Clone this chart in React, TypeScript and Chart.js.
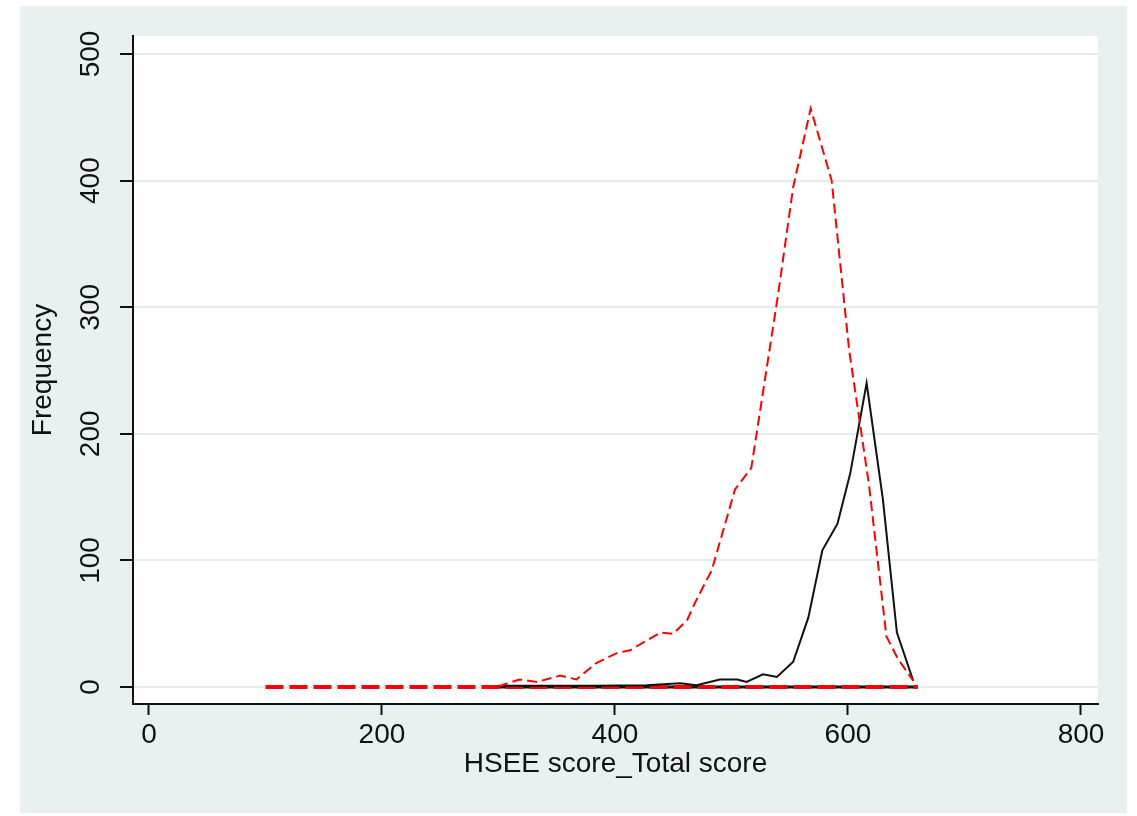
import React, { useEffect, useRef } from "react";
import { Chart, registerables } from "chart.js";

Chart.register(...registerables);

// Score values (x) and frequencies (y)
const redScores = [300, 305, 318, 333, 353, 367, 384, 402, 413, 424, 439, 450, 462, 470, 483, 503, 517, 540, 553, 568, 586, 601, 618, 633, 643, 656];
const redFreq = [0, 2, 6, 4, 9, 6, 19, 27, 29, 35, 43, 42, 53, 69, 92, 156, 173, 310, 395, 457, 400, 266, 160, 40, 22, 5];

const blackScores = [300, 340, 380, 427, 456, 470, 490, 505, 513, 527, 539, 553, 566, 578, 591, 602, 616, 630, 642, 656];
const blackFreq = [1, 1, 1, 1.5, 3, 1.5, 6, 6, 4, 10, 8, 20, 55, 108, 129, 169, 240, 148, 43, 5];

const zeroRedScores = [100, 660];
const zeroRedFreq = [0, 0];
const zeroBlackScores = [300, 660];
const zeroBlackFreq = [0, 0];

const xTicks = [0, 200, 400, 600, 800];
const yTicks = [0, 100, 200, 300, 400, 500];

const xTitle = "HSEE score_Total score";
const yTitle = "Frequency";

const FONT = "'Liberation Sans', Arial, 'DejaVu Sans', sans-serif";
const BG = "rgb(232,240,242)";
const GRID = "rgb(228,236,240)";

const toPts = (xs: number[], ys: number[]) => xs.map((x, i) => ({ x, y: ys[i] }));

export default function App() {
  const ref = useRef<HTMLCanvasElement | null>(null);

  useEffect(() => {
    document.body.style.margin = "0";
    const canvas = ref.current;
    if (!canvas) return;

    const bgPlugin = {
      id: "stataBg",
      beforeDraw(chart: any) {
        const { ctx, chartArea } = chart;
        ctx.save();
        ctx.fillStyle = "#ffffff";
        ctx.fillRect(0, 0, chart.width, chart.height);
        ctx.fillStyle = BG;
        ctx.fillRect(20, 6, 1107, 807);
        ctx.fillStyle = "#ffffff";
        ctx.fillRect(chartArea.left, chartArea.top, chartArea.right - chartArea.left, chartArea.bottom - chartArea.top);
        ctx.restore();
      },
    };

    const chart = new Chart(canvas, {
      type: "line",
      data: {
        datasets: [
          {
            data: toPts(redScores, redFreq),
            borderColor: "#ff0000",
            borderWidth: 2,
            borderDash: [10, 5],
            pointRadius: 0,
            tension: 0,
            fill: false,
          },
          {
            data: toPts(blackScores, blackFreq),
            borderColor: "#111111",
            borderWidth: 2,
            pointRadius: 0,
            tension: 0,
            fill: false,
          },
          {
            data: toPts(zeroRedScores, zeroRedFreq),
            borderColor: "#ff0000",
            borderWidth: 4,
            borderDash: [18, 6],
            pointRadius: 0,
            tension: 0,
            fill: false,
          },
          {
            data: toPts(zeroBlackScores, zeroBlackFreq),
            borderColor: "#111111",
            borderWidth: 3,
            pointRadius: 0,
            tension: 0,
            fill: false,
          },
        ],
      },
      options: {
        responsive: false,
        animation: false,
        events: [],
        layout: { padding: { top: 36, right: 39, left: 0, bottom: 0 } },
        plugins: {
          legend: { display: false },
          tooltip: { enabled: false },
          title: { display: false },
        },
        scales: {
          x: {
            type: "linear",
            min: -13.7,
            max: 814.6,
            afterBuildTicks: (scale: any) => {
              scale.ticks = xTicks.map((v) => ({ value: v }));
            },
            afterFit: (scale: any) => {
              scale.height = 112;
            },
            grid: {
              drawOnChartArea: false,
              drawTicks: true,
              tickLength: 11,
              tickColor: "#111111",
              tickWidth: 2,
            },
            border: { display: true, color: "#111111", width: 2 },
            ticks: {
              color: "#111111",
              font: { family: FONT, size: 28 },
              padding: 3,
              maxRotation: 0,
              autoSkip: false,
            },
            title: {
              display: true,
              text: xTitle,
              color: "#111111",
              font: { family: FONT, size: 28 },
              padding: { top: 0, bottom: 35 },
            },
          },
          y: {
            type: "linear",
            min: -13.4,
            max: 514.2,
            afterBuildTicks: (scale: any) => {
              scale.ticks = yTicks.map((v) => ({ value: v }));
            },
            afterFit: (scale: any) => {
              scale.width = 133;
            },
            grid: {
              drawOnChartArea: true,
              color: GRID,
              lineWidth: 2,
              drawTicks: true,
              tickLength: 13,
              tickColor: "#111111",
              tickWidth: 2,
            },
            border: { display: true, color: "#111111", width: 2 },
            ticks: {
              color: "#111111",
              font: { family: FONT, size: 28 },
              padding: 5,
              minRotation: 90,
              maxRotation: 90,
              crossAlign: "center",
              autoSkip: false,
            },
            title: {
              display: true,
              text: yTitle,
              color: "#111111",
              font: { family: FONT, size: 28 },
              padding: { top: 26, bottom: 0 },
            },
          },
        },
      },
      plugins: [bgPlugin],
    });

    return () => chart.destroy();
  }, []);

  return <canvas ref={ref} width={1137} height={816} style={{ display: "block" }} />;
}
